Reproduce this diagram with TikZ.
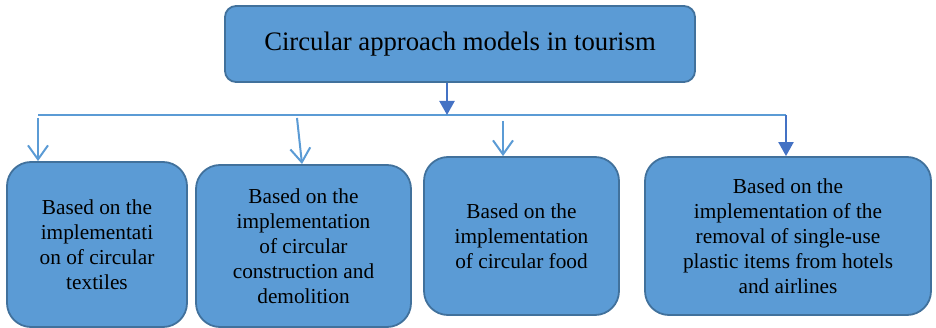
\documentclass[tikz,border=0pt]{standalone}
\usepackage{fontspec}
\setmainfont{Liberation Serif}
\usetikzlibrary{arrows.meta}
\definecolor{boxfill}{HTML}{5B9BD5}
\definecolor{boxline}{HTML}{41719C}
\definecolor{darkarrow}{HTML}{4472C4}
\begin{document}
\begin{tikzpicture}[x=1pt, y=-1pt,
  every node/.style = {shape=rectangle, rounded corners=24pt,
    draw=boxline, line width=1.8pt, fill=boxfill, align=center,
    font=\fontsize{21.3}{25}\selectfont, inner sep=0pt},
    bus/.style={draw=boxfill, line width=1.2pt},
    lightarr/.style={-{Straight Barb[length=14pt,width=20pt]}, draw=boxfill, line width=2pt},
    darkarr/.style={-{Triangle[length=14pt,width=15pt]}, draw=darkarrow, line width=2.2pt}
    ]
  \useasboundingbox (0,0) rectangle (936,328);
  \node (top) [minimum width=470pt, minimum height=76pt, rounded corners=11pt,
    font=\fontsize{26.7}{30}\selectfont] at (460,44) {Circular approach models in tourism};
  \node (textiles) [minimum width=180pt, minimum height=165pt] at (97,244.5)
    {Based on the\\implementati\\on of circular\\textiles};
  \node (construction) [minimum width=215pt, minimum height=162pt] at (303.5,246)
    {Based on the\\implementation\\of circular\\construction and\\demolition};
  \node (food) [minimum width=195pt, minimum height=158pt] at (521.5,236)
    {Based on the\\implementation\\of circular food};
  \node (plastic) [minimum width=286pt, minimum height=158pt] at (788,236)
    {Based on the\\implementation of the\\removal of single-use\\plastic items from hotels\\and airlines};
  \coordinate (busl) at (38,115);
  \coordinate (busr) at (786,115);
  \coordinate (join) at (447,115);
  \coordinate (drop1) at (38,118);
  \coordinate (drop2) at (297,118);
  \coordinate (end2) at (302,164);
  \coordinate (drop3) at (503,121);
  \draw[bus] (busl) -- (busr);
  \draw[darkarr] (top.south -| join) -- (join);
  \draw[lightarr] (drop1) -- (textiles.north -| drop1);
  \draw[lightarr] (drop2) -- (end2);
  \draw[lightarr] (drop3) -- (food.north -| drop3);
  \draw[darkarr] (busr) -- (plastic.north -| busr);
\end{tikzpicture}
\end{document}
